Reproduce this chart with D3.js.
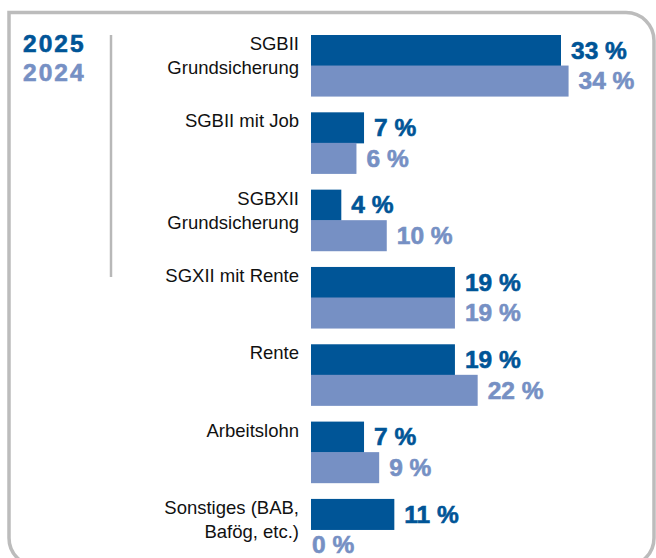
<!DOCTYPE html>
<html>
<head>
<meta charset="utf-8">
<script src="https://cdn.jsdelivr.net/npm/d3@7"></script>
<style>
  html, body { margin: 0; padding: 0; background: #fff; }
  svg { display: block; font-family: "Liberation Sans", Arial, sans-serif; }
</style>
</head>
<body>
<svg id="chart"></svg>
<script>
"use strict";

// DATA
var categories = [
  ["SGBII", "Grundsicherung"],
  ["SGBII mit Job"],
  ["SGBXII", "Grundsicherung"],
  ["SGXII mit Rente"],
  ["Rente"],
  ["Arbeitslohn"],
  ["Sonstiges (BAB,", "Bafög, etc.)"]
];
var years = ["2025", "2024"];
var values2025 = [33, 7, 4, 19, 19, 7, 11];
var values2024 = [34, 6, 10, 19, 22, 9, 0];

var colors = { "2025": "#005597", "2024": "#7690c4" };

var width = 656, height = 558;

var svg = d3.select("#chart").attr("width", width).attr("height", height);

// FRAME (square top-left, rounded other corners)
var fx0 = 9, fy0 = 12.5, fx1 = 654, fy1 = 566, r = 28;
var frame = d3.path();
frame.moveTo(fx0, fy0);
frame.lineTo(fx1 - r, fy0);
frame.arcTo(fx1, fy0, fx1, fy0 + r, r);
frame.lineTo(fx1, fy1 - r);
frame.arcTo(fx1, fy1, fx1 - r, fy1, r);
frame.lineTo(fx0 + r, fy1);
frame.arcTo(fx0, fy1, fx0, fy1 - r, r);
frame.closePath();
svg.append("path").attr("d", frame.toString())
  .attr("fill", "none").attr("stroke", "#bcbcbc").attr("stroke-width", 3.5);

// LEGEND
years.forEach(function (yr, i) {
  svg.append("text").attr("x", 23).attr("y", 52 + i * 28.5).text(yr)
    .attr("fill", colors[yr]).attr("stroke", colors[yr]).attr("stroke-width", 0.6)
    .attr("font-size", 24.5).attr("font-weight", "bold")
    .attr("letter-spacing", 2);
});
svg.append("line").attr("x1", 111).attr("x2", 111).attr("y1", 35).attr("y2", 277)
  .attr("stroke", "#b8b8b8").attr("stroke-width", 2.5);

// SCALES
var keys = categories.map(function (c, i) { return "c" + i; });
var y0 = d3.scaleBand().domain(keys).range([35, 560]).paddingInner(0.21).paddingOuter(0);
var y1 = d3.scaleBand().domain(years).range([0, y0.bandwidth()]);
var x = d3.scaleLinear().domain([0, 33]).range([311, 561]);

var rows = categories.map(function (c, i) {
  return { key: keys[i], label: c, vals: [
    { year: "2025", value: values2025[i] },
    { year: "2024", value: values2024[i] }
  ] };
});

var groups = svg.selectAll(".group").data(rows).enter().append("g")
  .attr("class", "group")
  .attr("transform", function (d) { return "translate(0," + y0(d.key) + ")"; });

groups.selectAll("rect").data(function (d) { return d.vals; }).enter().append("rect")
  .attr("x", x(0))
  .attr("y", function (d) { return y1(d.year); })
  .attr("width", function (d) { return x(d.value) - x(0); })
  .attr("height", y1.bandwidth() + 0.5)
  .attr("fill", function (d) { return colors[d.year]; });

groups.selectAll(".val").data(function (d) { return d.vals; }).enter().append("text")
  .attr("class", "val")
  .attr("x", function (d) { return x(d.value) + (d.value > 0 ? 10 : 1); })
  .attr("y", function (d) { return y1(d.year) + y1.bandwidth() / 2 + 8.5; })
  .attr("fill", function (d) { return colors[d.year]; })
  .attr("stroke", function (d) { return colors[d.year]; })
  .attr("stroke-width", 0.6)
  .attr("font-size", 24.5).attr("font-weight", "bold")
  .text(function (d) { return d.value + " %"; });

// CATEGORY LABELS
groups.append("text")
  .attr("text-anchor", "end")
  .attr("font-size", 18.5)
  .attr("fill", "#111")
  .selectAll("tspan").data(function (d) { return d.label; }).enter().append("tspan")
  .attr("x", 299)
  .attr("y", function (d, i) { return 15 + i * 24; })
  .text(function (d) { return d; });
</script>
</body>
</html>
